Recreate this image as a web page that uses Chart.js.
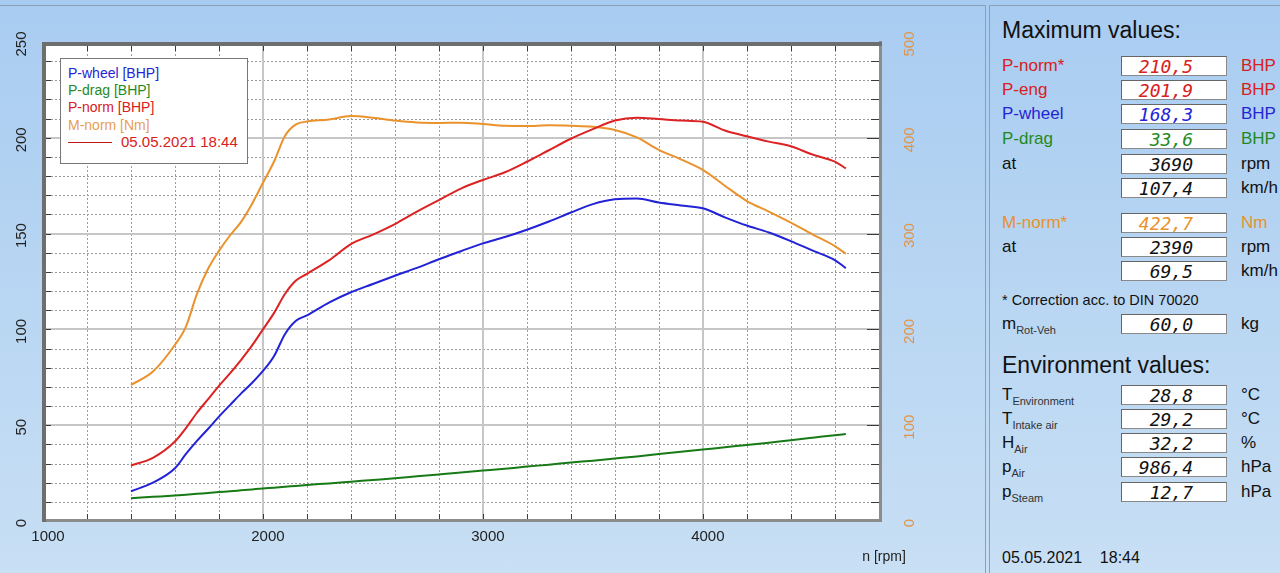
<!DOCTYPE html>
<html><head><meta charset="utf-8">
<script src="https://cdn.jsdelivr.net/npm/chart.js@4.4.1/dist/chart.umd.min.js"></script>
<style>
html,body{margin:0;padding:0;}
body{width:1280px;height:573px;overflow:hidden;position:relative;background:linear-gradient(#a8ccf1,#c8dff4);font-family:'Liberation Sans',Arial,sans-serif;color:#111;}
#leftFrame{position:absolute;left:0;top:5px;width:986px;height:568px;border-top:1px solid #8a9fb8;border-right:1px solid #8a9fb8;box-sizing:border-box;}
#chartWrap{position:absolute;left:0;top:0;width:985px;height:573px;}
#legend{position:absolute;left:60px;top:58px;width:188px;height:106px;background:#fff;border:1px solid #777;box-sizing:border-box;font-size:14px;}
.lg{position:absolute;left:7px;line-height:17px;white-space:nowrap;}
#panel{position:absolute;left:989px;top:5px;width:291px;height:568px;border-top:1px solid #8a9fb8;border-left:1px solid #8a9fb8;box-sizing:border-box;}
.row{position:absolute;left:0;width:290px;height:20px;}
.lab{position:absolute;left:12px;top:0;font-size:17px;line-height:20px;white-space:nowrap;}
.lab sub{font-size:11px;vertical-align:-5px;line-height:0;color:#333;}
.box{position:absolute;left:131px;top:0;width:106px;height:20px;background:#fff;border:1px solid #8a8a8a;border-top-color:#666;border-left-color:#666;box-sizing:border-box;font-family:'DejaVu Sans Mono',monospace;font-style:italic;font-size:18px;text-align:right;padding-right:33px;line-height:19px;}
.unit{position:absolute;left:251px;top:0;font-size:17px;line-height:20px;white-space:nowrap;}
.hdr{position:absolute;left:12px;font-size:23px;line-height:26px;white-space:nowrap;}
.red{color:#d82020}.blue{color:#2424d4}.green{color:#1f8a1f}.orange{color:#e8922e}
</style></head>
<body>
<div id="leftFrame"></div>
<div id="chartWrap"><canvas id="c" width="985" height="573"></canvas></div>
<div id="legend">
  <div class="lg" style="top:6px;color:#2424d4">P-wheel [BHP]</div>
  <div class="lg" style="top:23px;color:#1f8a1f">P-drag [BHP]</div>
  <div class="lg" style="top:40px;color:#d82020">P-norm [BHP]</div>
  <div class="lg" style="top:58px;color:#e8a050">M-norm [Nm]</div>
  <div style="position:absolute;left:7px;top:83px;width:44px;height:1px;background:#c01818"></div>
  <div class="lg" style="top:74px;left:60px;font-size:15px;color:#d82020">05.05.2021 18:44</div>
</div>
<div id="panel">
  <div class="hdr" style="top:11px">Maximum values:</div>
  <div class="row" style="top:50px"><span class="lab red">P-norm*</span><span class="box red">210,5</span><span class="unit red">BHP</span></div>
  <div class="row" style="top:74px"><span class="lab red">P-eng</span><span class="box red">201,9</span><span class="unit red">BHP</span></div>
  <div class="row" style="top:98px"><span class="lab blue">P-wheel</span><span class="box blue">168,3</span><span class="unit blue">BHP</span></div>
  <div class="row" style="top:123px"><span class="lab green">P-drag</span><span class="box green">33,6</span><span class="unit green">BHP</span></div>
  <div class="row" style="top:148px"><span class="lab">at</span><span class="box">3690</span><span class="unit">rpm</span></div>
  <div class="row" style="top:172px"><span class="box">107,4</span><span class="unit">km/h</span></div>
  <div class="row" style="top:207px"><span class="lab orange">M-norm*</span><span class="box orange">422,7</span><span class="unit orange">Nm</span></div>
  <div class="row" style="top:231px"><span class="lab">at</span><span class="box">2390</span><span class="unit">rpm</span></div>
  <div class="row" style="top:255px"><span class="box">69,5</span><span class="unit">km/h</span></div>
  <div style="position:absolute;left:12px;top:285px;font-size:14.5px;line-height:18px;white-space:nowrap;">* Correction acc. to DIN 70020</div>
  <div class="row" style="top:308px"><span class="lab">m<sub>Rot-Veh</sub></span><span class="box">60,0</span><span class="unit">kg</span></div>
  <div class="hdr" style="top:346px">Environment values:</div>
  <div class="row" style="top:379px"><span class="lab">T<sub>Environment</sub></span><span class="box">28,8</span><span class="unit">°C</span></div>
  <div class="row" style="top:403px"><span class="lab">T<sub>Intake air</sub></span><span class="box">29,2</span><span class="unit">°C</span></div>
  <div class="row" style="top:427px"><span class="lab">H<sub>Air</sub></span><span class="box">32,2</span><span class="unit">%</span></div>
  <div class="row" style="top:451px"><span class="lab">p<sub>Air</sub></span><span class="box">986,4</span><span class="unit">hPa</span></div>
  <div class="row" style="top:476px"><span class="lab">p<sub>Steam</sub></span><span class="box">12,7</span><span class="unit">hPa</span></div>
  <div style="position:absolute;left:12px;top:542px;font-size:16px;line-height:20px;white-space:pre;">05.05.2021    18:44</div>
</div>
<script>
const rpm    = [1400,1500,1600,1650,1700,1750,1800,1850,1900,1950,2000,2050,2100,2150,2200,2300,2400,2500,2600,2700,2800,2900,3000,3100,3200,3300,3400,3500,3600,3700,3800,3900,4000,4100,4200,4300,4400,4500,4600,4650];
const pWheel = [15.5,20.0,27.5,35.0,41.8,48.0,54.5,60.5,66.5,72.0,78.3,86.0,97.5,104.5,107.3,114.0,119.4,123.7,128.0,132.1,136.6,140.8,144.9,148.2,152.0,156.3,161.0,165.4,167.9,168.3,166.2,164.7,163.2,158.5,154.2,150.6,146.1,141.1,136.2,132.0];
const pDrag  = [11.9,12.6,13.3,13.7,14.2,14.6,15.1,15.5,16.0,16.5,17.0,17.4,17.9,18.3,18.8,19.6,20.5,21.4,22.3,23.3,24.3,25.3,26.3,27.3,28.4,29.4,30.5,31.5,32.6,33.7,35.0,36.1,37.3,38.5,39.7,40.9,42.2,43.5,44.8,45.4];
const pNorm  = [29.0,33.0,41.5,48.5,56.5,63.5,70.5,77.0,84.0,91.5,100.0,108.5,118.5,125.5,129.0,136.0,144.5,149.5,155.0,161.5,167.5,173.5,178.0,182.0,187.5,193.5,199.5,204.5,209.0,210.5,209.8,209.0,208.4,203.8,200.8,198.0,195.6,191.2,187.6,184.0];
const mNorm  = [142,156,184,203,237,263,282,298,312,331,353,375,402,414,417,419,422.7,421,418,416,415.5,415.8,414.4,412.5,412.3,413,412.5,411.5,408.2,400.5,387.5,377.5,366.5,350,334,323,311.5,299,287,279];

const xTickLabels = [1000,2000,3000,4000];
const yLeftTickLabels = [0,50,100,150,200,250];
const yRightTickLabels = [0,100,200,300,400,500];
const xMinorStep = 200, yMinorStep = 10, xMajorStep = 1000, yMajorStep = 50;
const RPM_MIN = 1000, RPM_MAX = 4810, P_MAX = 250, M_MAX = 500;

const FONT = "'Liberation Sans', Arial, sans-serif";

const decor = {
  id: 'decor',
  beforeDatasetsDraw(chart) {
    const {ctx, chartArea: a, scales: {x, y}} = chart;
    ctx.save();
    ctx.fillStyle = '#ffffff';
    ctx.fillRect(a.left, a.top, a.right - a.left, a.bottom - a.top);
    ctx.lineWidth = 1;
    ctx.strokeStyle = '#9c9c9c';
    ctx.setLineDash([2, 2]);
    ctx.beginPath();
    for (let v = RPM_MIN + xMinorStep; v < RPM_MAX - 50; v += xMinorStep) {
      if (v % xMajorStep === 0) continue;
      const px = Math.round(x.getPixelForValue(v)) + 0.5;
      ctx.moveTo(px, a.top); ctx.lineTo(px, a.bottom);
    }
    for (let v = yMinorStep; v < P_MAX; v += yMinorStep) {
      if (v % yMajorStep === 0) continue;
      const py = Math.round(y.getPixelForValue(v)) + 0.5;
      ctx.moveTo(a.left, py); ctx.lineTo(a.right, py);
    }
    ctx.stroke();
    ctx.setLineDash([]);
    ctx.strokeStyle = '#c6c6c6';
    ctx.lineWidth = 2;
    ctx.beginPath();
    for (const v of xTickLabels) {
      if (v <= RPM_MIN) continue;
      const px = Math.round(x.getPixelForValue(v));
      ctx.moveTo(px, a.top); ctx.lineTo(px, a.bottom);
    }
    for (const v of yLeftTickLabels) {
      if (v <= 0 || v >= P_MAX) continue;
      const py = Math.round(y.getPixelForValue(v));
      ctx.moveTo(a.left, py); ctx.lineTo(a.right, py);
    }
    ctx.stroke();
    ctx.strokeStyle = '#3a3a3a';
    ctx.lineWidth = 1;
    ctx.beginPath();
    for (let v = RPM_MIN + xMinorStep; v < RPM_MAX - 50; v += xMinorStep) {
      const px = Math.round(x.getPixelForValue(v)) + 0.5;
      ctx.moveTo(px, a.top); ctx.lineTo(px, a.top + 9);
      ctx.moveTo(px, a.bottom); ctx.lineTo(px, a.bottom - 7);
    }
    for (let v = yMinorStep; v < P_MAX; v += yMinorStep) {
      const py = Math.round(y.getPixelForValue(v)) + 0.5;
      const len = v % yMajorStep === 0 ? 14 : 10;
      ctx.moveTo(a.left, py); ctx.lineTo(a.left + 8, py);
      ctx.moveTo(a.right, py); ctx.lineTo(a.right - len, py);
    }
    ctx.stroke();
    ctx.restore();
  },
  afterDatasetsDraw(chart) {
    const {ctx, chartArea: a, scales: {x, y, y2}} = chart;
    ctx.save();
    ctx.fillStyle = '#8c8c8c';
    ctx.fillRect(a.right - 2, a.top - 1, 3, a.bottom - a.top + 2);
    ctx.fillRect(a.left - 1, a.bottom - 2, a.right - a.left + 2, 3);
    ctx.fillStyle = '#6e6e6e';
    ctx.fillRect(a.left - 1, a.top, a.right - a.left + 2, 4);
    ctx.fillRect(a.left - 1, a.top, 4, a.bottom - a.top + 1);
    ctx.font = '15px ' + FONT;
    ctx.fillStyle = '#222';
    ctx.textAlign = 'center';
    ctx.textBaseline = 'middle';
    for (const v of xTickLabels) {
      ctx.fillText(String(v), x.getPixelForValue(v) + 5, 537);
    }
    ctx.font = '14px ' + FONT;
    ctx.fillText('n [rpm]', 884, 557);
    ctx.font = '15px ' + FONT;
    for (const v of yLeftTickLabels) {
      ctx.save();
      ctx.translate(22, y.getPixelForValue(v) + 2);
      ctx.rotate(-Math.PI / 2);
      ctx.fillStyle = '#222';
      ctx.fillText(String(v), 0, 0);
      ctx.restore();
    }
    for (const v of yRightTickLabels) {
      ctx.save();
      ctx.translate(910, y2.getPixelForValue(v) + 2);
      ctx.rotate(-Math.PI / 2);
      ctx.fillStyle = '#e0944a';
      ctx.fillText(String(v), 0, 0);
      ctx.restore();
    }
    ctx.restore();
  }
};

const pts = (arr) => rpm.map((r, i) => ({x: r, y: arr[i]}));

new Chart(document.getElementById('c'), {
  type: 'line',
  data: {
    datasets: [
      {label: 'P-drag [BHP]', data: pts(pDrag), borderColor: '#177a17', yAxisID: 'y'},
      {label: 'P-wheel [BHP]', data: pts(pWheel), borderColor: '#2222d6', yAxisID: 'y'},
      {label: 'P-norm [BHP]', data: pts(pNorm), borderColor: '#dc2222', yAxisID: 'y'},
      {label: 'M-norm [Nm]', data: pts(mNorm), borderColor: '#ea922c', yAxisID: 'y2'}
    ]
  },
  options: {
    responsive: false,
    animation: false,
    devicePixelRatio: 1,
    layout: {padding: {left: 43, top: 42, right: 104, bottom: 52}},
    plugins: {legend: {display: false}, tooltip: {enabled: false}},
    elements: {
      point: {radius: 0},
      line: {borderWidth: 2, cubicInterpolationMode: 'monotone', fill: false}
    },
    scales: {
      x: {type: 'linear', min: RPM_MIN, max: RPM_MAX, display: false},
      y: {type: 'linear', min: 0, max: P_MAX, display: false},
      y2: {type: 'linear', min: 0, max: M_MAX, display: false, position: 'right'}
    }
  },
  plugins: [decor]
});
</script>
</body></html>
